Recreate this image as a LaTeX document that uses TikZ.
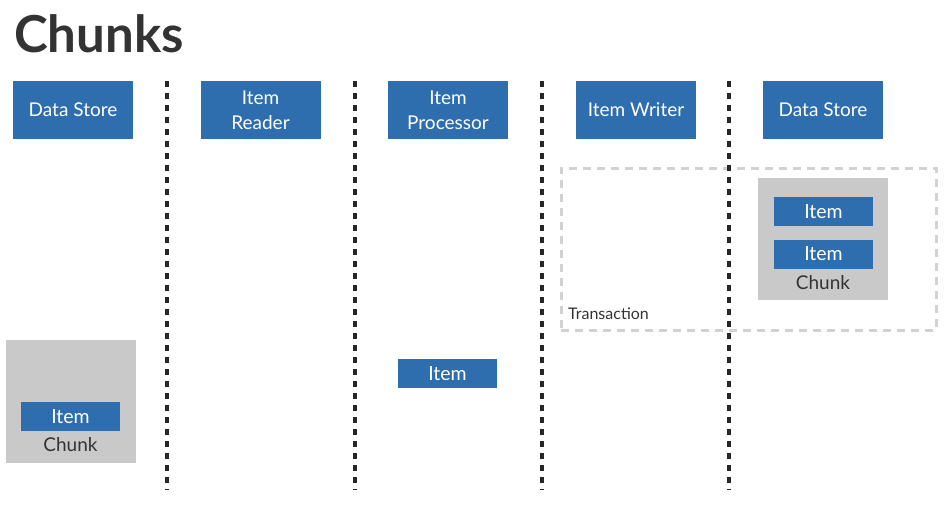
\documentclass[tikz,border=0pt]{standalone}
\usepackage{fontspec}
\setmainfont{Lato}
\definecolor{boxblue}{HTML}{2E6DAE}
\definecolor{chunkgray}{HTML}{C9C9C9}
\definecolor{txtdark}{HTML}{333333}
\definecolor{transgray}{HTML}{D2D2D2}
\tikzset{
  x=1pt, y=-1pt,
  bluebox/.style={fill=boxblue, text=white, font=\fontsize{19}{25}\selectfont, align=center, inner sep=0pt},
  itembox/.style={fill=boxblue, text=white, font=\fontsize{19.5}{22}\selectfont, inner sep=0pt, minimum width=99pt, minimum height=29pt},
  chunkbox/.style={fill=chunkgray, inner sep=0pt},
  sep/.style={line width=3.5pt, dash pattern=on 6pt off 6pt, black!85},
  trans/.style={draw=transgray, line width=3pt, dash pattern=on 8pt off 6pt},
  lbl/.style={text=txtdark, font=\fontsize{19}{22}\selectfont, inner sep=0pt}
}
\begin{document}
\begin{tikzpicture}
\useasboundingbox (0,0) rectangle (945,507);
\node[anchor=west, text=txtdark, font=\fontsize{51}{56}\selectfont\bfseries, inner sep=0pt] (title) at (14,34) {Chunks};
% header boxes
\node[bluebox, minimum width=120pt, minimum height=58pt] (ds1) at (73,110) {Data Store};
\node[bluebox, minimum width=120pt, minimum height=58pt] (ir) at (260.5,110) {Item\\Reader};
\node[bluebox, minimum width=120pt, minimum height=58pt] (ip) at (448,110) {Item\\Processor};
\node[bluebox, minimum width=120pt, minimum height=58pt] (iw) at (636,110) {Item Writer};
\node[bluebox, minimum width=120pt, minimum height=58pt] (ds2) at (823,110) {Data Store};
% separators
\coordinate (s1a) at (167,81); \coordinate (s1b) at (167,490);
\coordinate (s2a) at (355,81); \coordinate (s2b) at (355,490);
\coordinate (s3a) at (542,81); \coordinate (s3b) at (542,490);
\coordinate (s4a) at (729,81); \coordinate (s4b) at (729,490);
% transaction
\node[trans, minimum width=375pt, minimum height=162pt, inner sep=0pt] (tr) at (748.5,249) {};
\node[anchor=south west, text=txtdark, font=\fontsize{16}{18}\selectfont, inner sep=0pt] (trl) at (568,320) {Transaction};
% right chunk
\node[chunkbox, minimum width=130pt, minimum height=122pt] (ch2) at (823,239) {};
\node[itembox] (it2a) at (823.5,211.5) {Item};
\node[itembox] (it2b) at (823.5,254) {Item};
\node[lbl] (ch2l) at (823,283) {Chunk};
% left chunk
\node[chunkbox, minimum width=130pt, minimum height=123pt] (ch1) at (70.5,401.5) {};
\node[itembox] (it1) at (70.5,416.5) {Item};
\node[lbl] (ch1l) at (70.5,445) {Chunk};
% middle item
\node[itembox] (it3) at (447.5,373.5) {Item};
\draw[sep] (s1a) -- (s1b);
\draw[sep] (s2a) -- (s2b);
\draw[sep] (s3a) -- (s3b);
\draw[sep] (s4a) -- (s4b);
\end{tikzpicture}
\end{document}
